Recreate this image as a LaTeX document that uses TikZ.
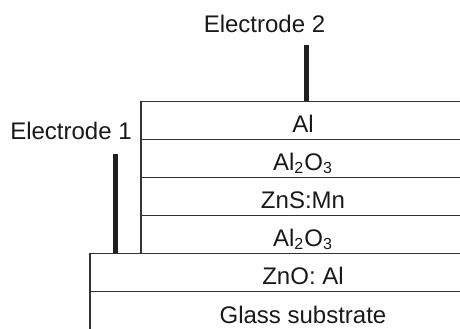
\documentclass[tikz,border=0pt]{standalone}
\usepackage{fontspec}
\setmainfont{Liberation Sans}
\usetikzlibrary{positioning}

\begin{document}
\begin{tikzpicture}[x=0.5pt,y=-0.5pt,
  layer/.style={draw=black!80,line width=0.6pt,minimum height=19pt,inner sep=0,
    text height=11.5pt,text depth=0pt,font=\fontsize{12}{14}\selectfont,text=black!90},
  upper/.style={layer,minimum width=162pt},
  lower/.style={layer,minimum width=213pt},
  lead/.style={line width=2.35pt,draw=black!88},
  tag/.style={anchor=base,inner sep=0,font=\fontsize{12}{14}\selectfont,text=black!90}]
\useasboundingbox (0,0) rectangle (460,328);
\clip (0,0) rectangle (460,328);
% stack of thin films
\foreach \name/\txt [count=\i] in {al/Al,ins1/Al\textsubscript{2}O\textsubscript{3},
    zns/ZnS:Mn,ins2/Al\textsubscript{2}O\textsubscript{3}}
  {\node[upper] (\name) at (303,82.5+38*\i) {\txt};}
\node[lower] (zno) at (303,272.5) {ZnO: Al\hspace{11pt}};
\node[lower,minimum height=23pt,text height=8.5pt] (glass) at (303,314.5) {Glass substrate};
% electrodes
\coordinate (e2top) at (306.3,45);
\coordinate (e1top) at (115.2,154);
\draw[lead] (e2top) -- (e2top |- al.north);
\draw[lead] (e1top) -- (e1top |- zno.north);
\node[tag] (e2lbl) at (264.5,32) {Electrode 2};
\node[tag] (e1lbl) at (71,139) {Electrode 1};
\end{tikzpicture}
\end{document}
